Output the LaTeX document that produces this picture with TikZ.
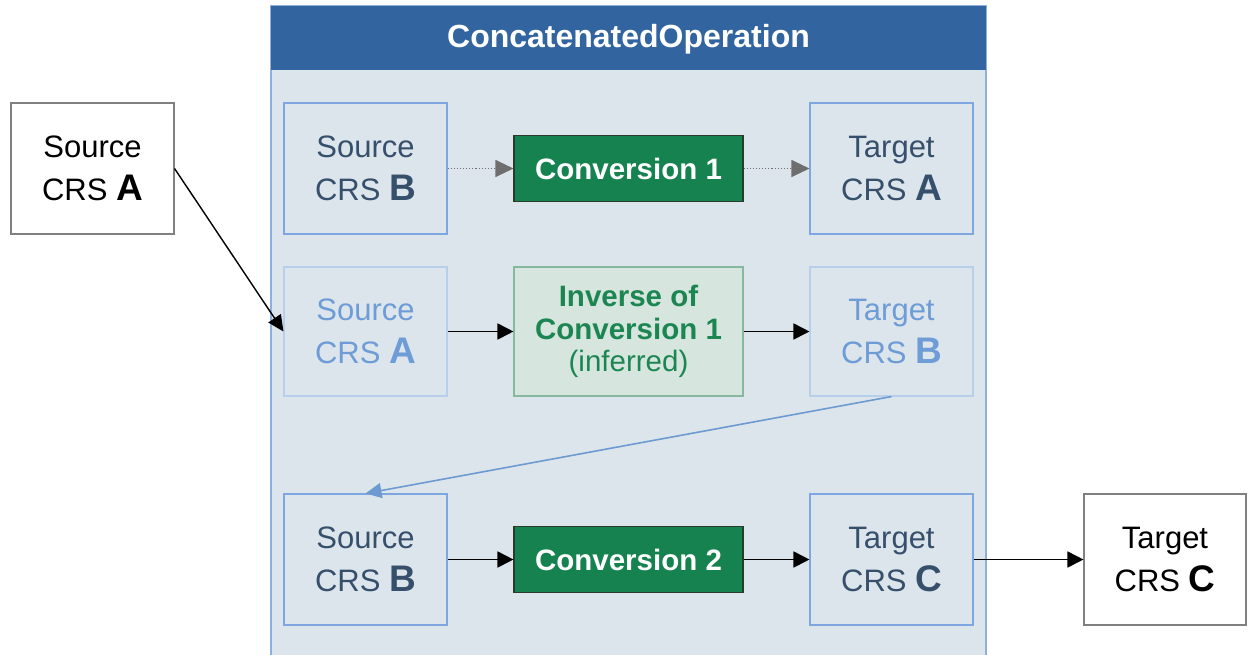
\documentclass[tikz,border=0pt]{standalone}
\usepackage{fontspec}
\setmainfont{Liberation Sans}
\usetikzlibrary{arrows.meta}
\definecolor{hdr}{HTML}{3264A0}
\definecolor{bodyfill}{HTML}{DDE5EC}
\definecolor{bodyborder}{HTML}{8DB0DD}
\definecolor{crsborder}{HTML}{7EA6E0}
\definecolor{crstext}{HTML}{36506C}
\definecolor{fadeborder}{HTML}{B8CFEC}
\definecolor{fadetext}{HTML}{6E9CD6}
\definecolor{convgreen}{HTML}{15824F}
\definecolor{convborder}{HTML}{2A3A2C}
\definecolor{invfill}{HTML}{D6E5DE}
\definecolor{invborder}{HTML}{86B8A0}
\definecolor{invtext}{HTML}{1B8652}
\definecolor{bluearrow}{HTML}{6C9BD2}
\definecolor{dotgray}{HTML}{6E6E6E}
\newcommand{\crsletter}[1]{{\fontsize{37}{37}\selectfont\bfseries #1}}
\begin{document}
\begin{tikzpicture}[x=1pt,y=-1pt,
  crsfont/.style={font=\fontsize{31}{43}\selectfont},
  anybox/.style={rectangle, inner sep=0pt, align=center, minimum width=163pt, minimum height=131pt, line width=1.1pt, crsfont},
  outerbox/.style={anybox, draw=black!50, fill=white, text=black},
  crsbox/.style={anybox, draw=crsborder, text=crstext},
  fadebox/.style={anybox, minimum height=129pt, draw=fadeborder, text=fadetext},
  convbox/.style={rectangle, inner sep=0pt, align=center, minimum width=229pt, minimum height=66pt, fill=convgreen, draw=convborder, line width=1.1pt, text=white, font=\fontsize{29.5}{32}\selectfont\bfseries},
  invbox/.style={rectangle, inner sep=0pt, align=center, minimum width=229pt, minimum height=129pt, fill=invfill, draw=invborder, line width=1.1pt, text=invtext, font=\fontsize{29.5}{32.5}\selectfont},
  blackarrow/.style={draw=black, line width=1.8pt, -{Triangle[length=16pt,width=16pt]}},
  dotarrow/.style={draw=dotgray, line width=1.1pt, dotted, -{Triangle[length=18pt,width=17pt]}},
  bluearr/.style={draw=bluearrow, line width=1.6pt, -{Triangle[length=16pt,width=15pt]}}
]
\useasboundingbox (0,0) rectangle (1250,654);
% container
\fill[bodyfill] (271,6) rectangle (986,664);
\draw[bodyborder, line width=1.2pt] (271,6) rectangle (986,664);
\fill[hdr] (271,6) rectangle (986,70);
\node[text=white, font=\fontsize{32}{34}\selectfont\bfseries] (title) at (628.5,39) {ConcatenatedOperation};

% outer boxes
\node[outerbox] (srcA) at (92.5,168.5) {Source\\CRS \crsletter{A}};
\node[outerbox, minimum width=162pt] (tgtC) at (1165,559.5) {Target\\CRS \crsletter{C}};

% row 1
\node[crsbox] (sB1) at (365.5,168.5) {Source\\CRS \crsletter{B}};
\node[convbox] (conv1) at (628.5,168.5) {Conversion 1};
\node[crsbox] (tA1) at (891.5,168.5) {Target\\CRS \crsletter{A}};

% row 2
\node[fadebox] (fsA) at (365.5,331.5) {Source\\CRS \crsletter{A}};
\node[invbox] (inv) at (628.5,331.5) {\textbf{Inverse of}\\\textbf{Conversion 1}\\(inferred)};
\node[fadebox] (ftB) at (891.5,331.5) {Target\\CRS \crsletter{B}};

% row 3
\node[crsbox] (sB3) at (365.5,559.5) {Source\\CRS \crsletter{B}};
\node[convbox] (conv2) at (628.5,559.5) {Conversion 2};
\node[crsbox] (tC3) at (891.5,559.5) {Target\\CRS \crsletter{C}};

% connectors
\draw[dotarrow] (sB1.east) -- (conv1.west);
\draw[dotarrow] (conv1.east) -- (tA1.west);
\draw[blackarrow] (fsA.east) -- (inv.west);
\draw[blackarrow] (inv.east) -- (ftB.west);
\draw[blackarrow] (sB3.east) -- (conv2.west);
\draw[blackarrow] (conv2.east) -- (tC3.west);
\draw[blackarrow] (tC3.east) -- (tgtC.west);
\draw[draw=black, line width=1.4pt, -{Triangle[length=16pt,width=15pt]}] (srcA.east) -- (fsA.west);
\draw[bluearr] (ftB.south) -- (sB3.north);
\end{tikzpicture}
\end{document}
